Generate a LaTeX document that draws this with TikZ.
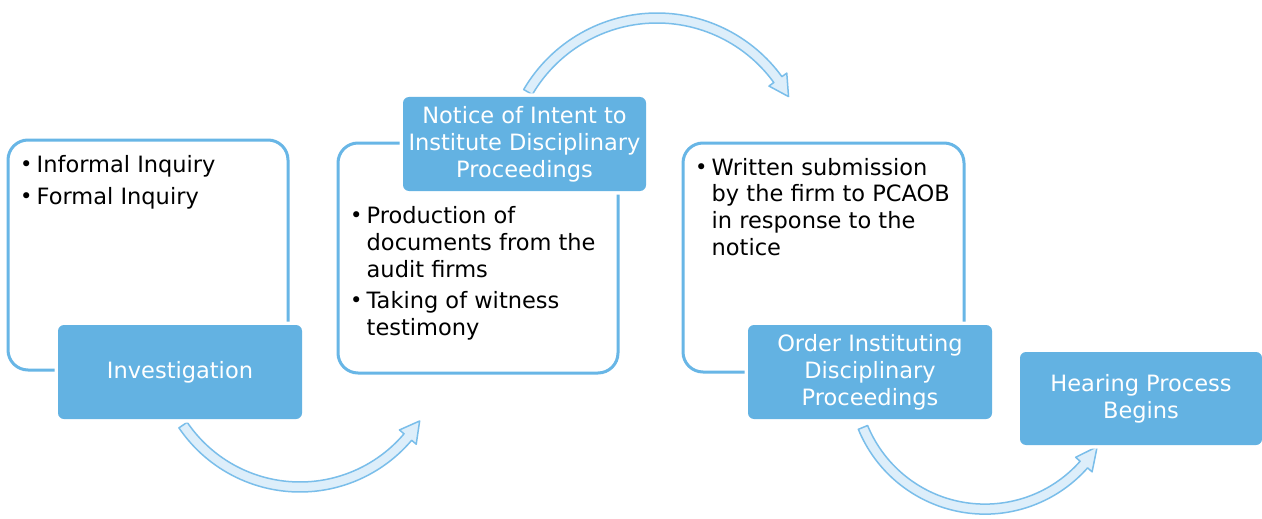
\documentclass[tikz,border=0pt]{standalone}
\usepackage{fontspec}
\setmainfont{DejaVu Sans}
\definecolor{boxblue}{RGB}{99,178,226}
\definecolor{lineblue}{RGB}{104,182,230}
\definecolor{arrfill}{RGB}{221,238,250}
\definecolor{arrline}{RGB}{122,190,234}
\newcommand{\bitem}[1]{\makebox[16.5pt][l]{\raisebox{0.5pt}{\fontsize{21}{27}\selectfont\textbullet}}\begin{tabular}[t]{@{}l@{}}#1\end{tabular}}
% block arc arrow: #1 centre coordinate, #2 radius, #3 start angle, #4 head-base angle, #5 tip angle
\newcommand{\blockarrow}[5]{%
  \pgfmathsetmacro\myRo{#2+5}\pgfmathsetmacro\myRi{#2-5}%
  \pgfmathsetmacro\myHo{#2+11}\pgfmathsetmacro\myHi{#2-11}%
  \draw[blockarr] ([shift={(#3:\myRo)}]#1) arc[start angle=#3, end angle=#4, radius=\myRo]
    -- ([shift={(#4:\myHo)}]#1) -- ([shift={(#5:#2)}]#1) -- ([shift={(#4:\myHi)}]#1)
    -- ([shift={(#4:\myRi)}]#1) arc[start angle=#4, end angle=#3, radius=\myRi] -- cycle;}
\tikzset{
  outlinebox/.style={draw=lineblue, line width=3pt, rounded corners=20pt, fill=white, rectangle, inner sep=0pt},
  stagebox/.style={fill=boxblue, preaction={draw=white, line width=7pt, rounded corners=6pt}, rounded corners=6pt,
     rectangle, inner sep=0pt, text=white, align=center, font=\fontsize{22.5}{27}\selectfont},
  bullettext/.style={anchor=base west, inner sep=0pt, font=\fontsize{22.5}{27}\selectfont},
  blockarr/.style={fill=arrfill, draw=arrline, line width=1.5pt, line join=round}
}
\begin{document}
\begin{tikzpicture}[x=1pt, y=-1pt]
\useasboundingbox (0,0) rectangle (1262,519);
\fill[white] (0,0) rectangle (1262,519);
% arrow centres
\coordinate (c1) at (300,345.6);
\coordinate (c2) at (657,167.4);
\coordinate (c3) at (985,377.1);
\blockarrow{c1}{141.4}{145.8}{40.3}{32.2}
\blockarrow{c2}{149.4}{210.3}{324.0}{331.7}
\blockarrow{c3}{132}{157.6}{41.5}{31.8}
% outline boxes
\node[outlinebox, minimum width=280pt, minimum height=230pt] (box1) at (148,255) {};
\node[outlinebox, minimum width=280pt, minimum height=230pt] (box2) at (478,258) {};
\node[outlinebox, minimum width=281pt, minimum height=229pt] (box3) at (823.5,257.5) {};
% bullet texts
\node[bullettext] (t1a) at (20,172) {\bitem{Informal Inquiry}};
\node[bullettext] (t1b) at (20,204) {\bitem{Formal Inquiry}};
\node[bullettext] (t2a) at (350,223) {\bitem{Production of\\documents from the\\audit firms}};
\node[bullettext] (t2b) at (350,308) {\bitem{Taking of witness\\testimony}};
\node[bullettext] (t3a) at (695,175) {\bitem{Written submission\\by the firm to PCAOB\\in response to the\\notice}};
% stage boxes
\node[stagebox, minimum width=244pt, minimum height=94pt] (inv) at (180,372) {\raisebox{-2.5pt}{Investigation}};
\node[stagebox, minimum width=243pt, minimum height=94pt] (notice) at (524.5,144) {Notice of Intent to\\Institute Disciplinary\\Proceedings};
\node[stagebox, minimum width=244pt, minimum height=94pt] (order) at (870,372) {Order Instituting\\Disciplinary\\Proceedings};
\node[stagebox, minimum width=242pt, minimum height=93pt] (hear) at (1141,398.5) {Hearing Process\\Begins};
\end{tikzpicture}
\end{document}
